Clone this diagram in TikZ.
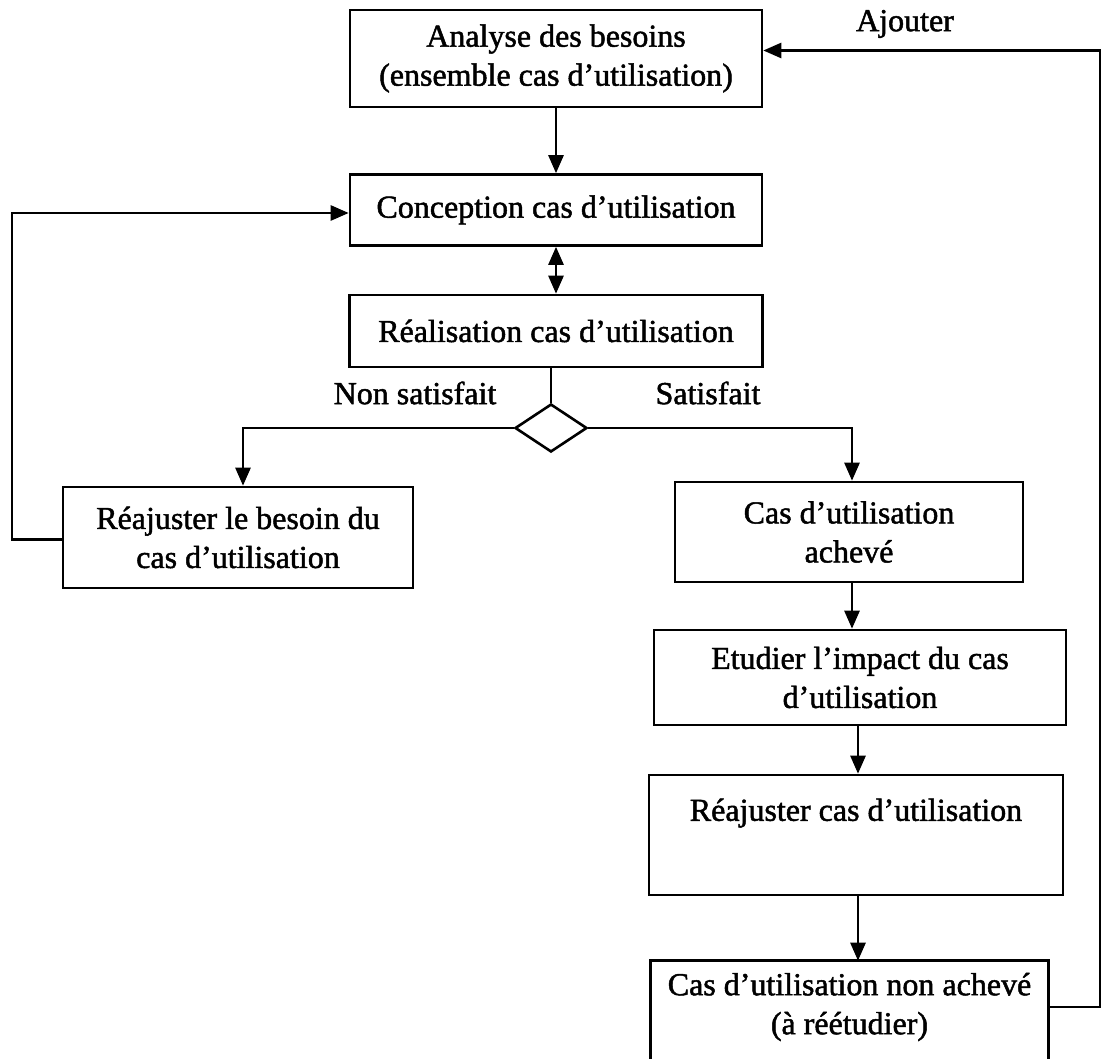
\documentclass[tikz,border=0pt]{standalone}
\usepackage{fontspec}
\setmainfont{Liberation Serif}[FakeBold=1.5]
\usetikzlibrary{arrows.meta,shapes.geometric,calc}
\begin{document}
\begin{tikzpicture}[x=1pt,y=-1pt,
  every node/.style={font=\fontsize{32}{39}\selectfont},
  box/.style={draw,line width=2.6pt,align=center,inner sep=0pt},
  link/.style={line width=2.6pt},
  tip/.tip={Triangle[length=18pt,width=15pt]},
  arr/.style={link,-tip},
  darr/.style={link,tip-tip},
  decision/.style={draw,line width=2.6pt,diamond,inner sep=0pt,minimum width=72pt,minimum height=48pt},
  tag/.style={inner sep=0pt}]
\useasboundingbox (0,0) rectangle (1106,1059);
\clip (0,0) rectangle (1106,1059);

% process boxes
\node[box,minimum width=412pt,minimum height=97pt] (analyse) at (556,58.5)
  {Analyse des besoins\\(ensemble cas d’utilisation)};
\node[box,minimum width=412pt,minimum height=71pt] (concep) at (556,210)
  {Conception cas d’utilisation};
\node[box,minimum width=413pt,minimum height=72pt] (real) at (556,331)
  {Réalisation cas d’utilisation};
\node[decision] (dia) at (551,428) {};
\node[box,minimum width=350pt,minimum height=101pt] (besoin) at (238,537.5)
  {Réajuster le besoin du\\cas d’utilisation};
\node[box,minimum width=348pt,minimum height=100pt] (achev) at (849,532)
  {Cas d’utilisation\\achevé};
\node[box,minimum width=412pt,minimum height=95pt] (etud) at (860,677.5)
  {Etudier l’impact du cas\\d’utilisation};
\node[box,minimum width=414pt,minimum height=120pt] (reajc) at (856,835)
  {Réajuster cas d’utilisation\\\strut};
% last box runs past the lower edge: its bottom side is not drawn
\node[box,draw=none,minimum width=395pt,minimum height=90pt] (nonach) at (849.5,1007)
  {Cas d’utilisation non achevé\\(à réétudier)};
\draw[link] ($(nonach.south west)+(0,30)$) -- (nonach.north west)
  -- (nonach.north east) -- ($(nonach.south east)+(0,30)$);

% branch labels
\node[tag] (lnon) at (415,393) {Non satisfait};
\node[tag] (lsat) at (708,393) {Satisfait};
\node[tag] (lajout) at (905,24) {Ajouter};

% anchor points for the connectors
\coordinate (rail) at (1100,0);
\coordinate (lrail) at (12,0);
\coordinate (ain) at ($(analyse.east)+(0,-8)$);
\coordinate (bt) at ($(besoin.north)+(5,0)$);
\coordinate (at) at ($(achev.north)+(3,0)$);
\coordinate (ab) at ($(achev.south)+(3,0)$);
\coordinate (eb) at ($(etud.south)+(-2,0)$);
\coordinate (rb) at ($(reajc.south)+(2,0)$);
\coordinate (bw) at ($(besoin.west)+(0,2)$);
\coordinate (cw) at ($(concep.west)+(0,3)$);

% connectors
\draw[arr] (analyse) -- (concep);
\draw[darr] (concep) -- (real);
\draw[link] (real.south -| dia) -- (dia.north);
\draw[arr] (dia.west) -| (bt);
\draw[arr] (dia.east) -| (at);
\draw[arr] (ab) -- (ab |- etud.north);
\draw[arr] (eb) -- (eb |- reajc.north);
\draw[arr] (rb) -- (rb |- nonach.north);
\draw[arr] (bw) -- (bw -| lrail) |- (cw);
\draw[arr] (nonach.east) -- (nonach.east -| rail) |- (ain);
\end{tikzpicture}
\end{document}
